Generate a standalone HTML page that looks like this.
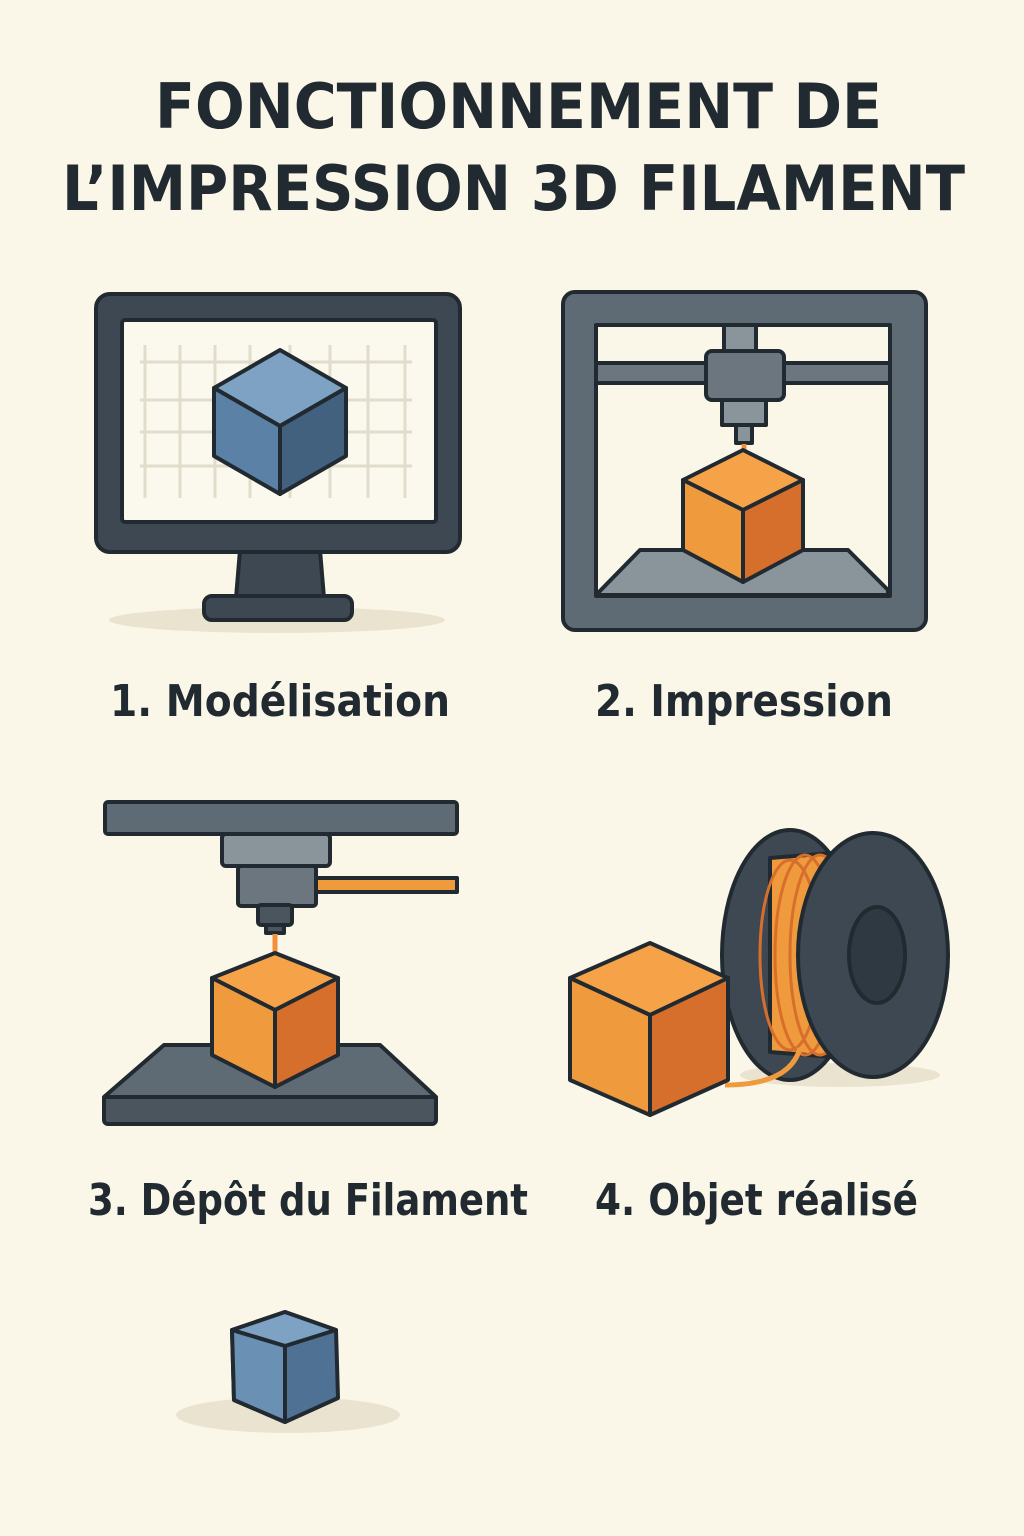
<!DOCTYPE html>
<html><head><meta charset="utf-8"><style>
html,body{margin:0;padding:0;background:#fbf7e8;}
svg{display:block}
text{font-family:"DejaVu Sans","Liberation Sans",sans-serif;font-weight:bold;fill:#222a31}
</style></head><body>
<svg width="1024" height="1536" viewBox="0 0 1024 1536" xmlns="http://www.w3.org/2000/svg">
<rect width="1024" height="1536" fill="#fbf7e8"/>
<text x="155" y="128" font-size="62" textLength="727" lengthAdjust="spacingAndGlyphs">FONCTIONNEMENT DE</text>
<text x="62" y="210" font-size="62" textLength="903" lengthAdjust="spacingAndGlyphs">L’IMPRESSION 3D FILAMENT</text>

<g stroke="#222a31" stroke-width="4" stroke-linejoin="round">
<ellipse cx="277" cy="620" rx="168" ry="13" fill="#e9e3cf" stroke="none"/>
<path d="M240 550 L320 550 L324 598 L236 598 Z" fill="#3d4852"/>
<rect x="204" y="596" width="148" height="24" rx="8" fill="#3d4852"/>
<rect x="96" y="294" width="364" height="258" rx="14" fill="#3d4852"/>
<rect x="122" y="320" width="314" height="202" rx="3" fill="#fbf8ee"/>
<g stroke="#e2dccb" stroke-width="3">
<line x1="145" y1="345" x2="145" y2="498"/><line x1="180" y1="345" x2="180" y2="498"/><line x1="215" y1="345" x2="215" y2="498"/><line x1="250" y1="345" x2="250" y2="498"/><line x1="290" y1="345" x2="290" y2="498"/><line x1="330" y1="345" x2="330" y2="498"/><line x1="368" y1="345" x2="368" y2="498"/><line x1="405" y1="345" x2="405" y2="498"/>
<line x1="140" y1="362" x2="412" y2="362"/><line x1="140" y1="400" x2="412" y2="400"/><line x1="140" y1="432" x2="412" y2="432"/><line x1="140" y1="466" x2="412" y2="466"/>
</g>
<polygon points="280,350 346,388 280,426 214,388" fill="#7da2c4"/>
<polygon points="214,388 280,426 280,494 214,456" fill="#5b82a6"/>
<polygon points="346,388 280,426 280,494 346,456" fill="#42617f"/>

<rect x="563" y="292" width="363" height="338" rx="12" fill="#5f6b74"/>
<rect x="596" y="325" width="294" height="271" fill="#fbf7e8"/>
<rect x="596" y="363" width="294" height="20" fill="#6b767e"/>
<rect x="724" y="325" width="32" height="28" fill="#8a949b"/>
<rect x="706" y="351" width="78" height="49" rx="6" fill="#6b767e"/>
<rect x="722" y="400" width="44" height="25" fill="#8a949b"/>
<rect x="736" y="425" width="16" height="18" fill="#8a949b"/>
<line x1="744" y1="444" x2="744" y2="460" stroke="#f0903a" stroke-width="5"/>
<polygon points="596,595 640,550 848,550 888,590 888,595" fill="#8a949b"/>
<polygon points="743,450 803,480 743,510 683,480" fill="#f5a248"/>
<polygon points="683,480 743,510 743,582 683,550" fill="#f09a3e"/>
<polygon points="803,480 743,510 743,582 803,550" fill="#d66f2c"/>

<rect x="105" y="802" width="352" height="32" rx="3" fill="#5f6b74"/>
<rect x="316" y="878" width="141" height="14" fill="#f09a3e"/>
<rect x="222" y="834" width="108" height="32" rx="4" fill="#8a949b"/>
<rect x="238" y="866" width="78" height="40" rx="3" fill="#6b767e"/>
<rect x="258" y="905" width="34" height="20" rx="3" fill="#4a555e"/>
<rect x="266" y="925" width="18" height="8" fill="#4a555e"/>
<line x1="275" y1="934" x2="275" y2="955" stroke="#f0903a" stroke-width="5"/>
<rect x="104" y="1095" width="332" height="29" rx="4" fill="#4a555e"/>
<polygon points="104,1097 164,1045 380,1045 436,1097" fill="#5f6b74"/>
<polygon points="275,953 338,978 275,1010 212,978" fill="#f5a248"/>
<polygon points="212,978 275,1010 275,1087 212,1055" fill="#f09a3e"/>
<polygon points="338,978 275,1010 275,1087 338,1055" fill="#d66f2c"/>

<ellipse cx="840" cy="1075" rx="100" ry="12" fill="#e9e3cf" stroke="none"/>
<ellipse cx="790" cy="955" rx="68" ry="125" fill="#3d4852"/>
<path d="M770 858 L870 850 L870 1060 L770 1052 Z" fill="#f09a3e"/>
<g fill="none" stroke="#d66f2c" stroke-width="3">
<ellipse cx="790" cy="955" rx="30" ry="95"/><ellipse cx="805" cy="955" rx="30" ry="100"/><ellipse cx="820" cy="955" rx="30" ry="100"/>
</g>
<ellipse cx="873" cy="955" rx="75" ry="122" fill="#3d4852"/>
<ellipse cx="877" cy="955" rx="28" ry="48" fill="#2f3941"/>
<path d="M725 1085 Q790 1085 800 1048" fill="none" stroke="#f09a3e" stroke-width="5"/>
<polygon points="650,943 728,978 650,1015 570,978" fill="#f5a248"/>
<polygon points="570,978 650,1015 650,1115 570,1080" fill="#f09a3e"/>
<polygon points="728,978 650,1015 650,1115 728,1080" fill="#d66f2c"/>

<ellipse cx="288" cy="1415" rx="112" ry="18" fill="#e9e3cf" stroke="none"/>
<path d="M285 1312 L336 1330 L338 1398 L285 1422 L234 1400 L232 1330 Z" fill="#4f7294"/>
<polygon points="285,1312 336,1330 285,1346 232,1330" fill="#7da2c4"/>
<polygon points="232,1330 285,1346 285,1422 234,1400" fill="#6a90b4"/>
</g>

<text x="110" y="716" font-size="44" textLength="340" lengthAdjust="spacingAndGlyphs">1. Modélisation</text>
<text x="595" y="716" font-size="44" textLength="298" lengthAdjust="spacingAndGlyphs">2. Impression</text>
<text x="88" y="1215" font-size="44" textLength="440" lengthAdjust="spacingAndGlyphs">3. Dépôt du Filament</text>
<text x="595" y="1215" font-size="44" textLength="323" lengthAdjust="spacingAndGlyphs">4. Objet réalisé</text>
</svg>
</body></html>
